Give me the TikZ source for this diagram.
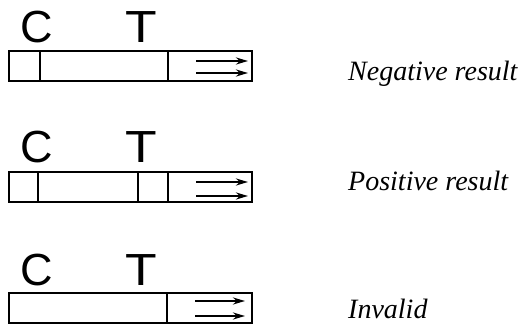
\documentclass[tikz,border=0pt]{standalone}
\usepackage{fontspec}
\setmainfont{Liberation Serif}
\newfontfamily\letterfont{Liberation Sans}
\usetikzlibrary{arrows.meta}
\begin{document}
\begin{tikzpicture}[x=1pt,y=-1pt,
  strip/.style={draw, line width=1.4pt, minimum width=243pt, minimum height=30pt, inner sep=0pt, outer sep=0pt},
  band/.style={line width=2pt},
  letter/.style={font=\letterfont\fontsize{45}{45}\selectfont, anchor=base, inner sep=0pt},
  wideletter/.style={letter, xscale=1.15, transform shape},
  result/.style={font=\itshape\fontsize{28}{28}\selectfont, anchor=base west, inner sep=0pt},
  flow/.style={line width=2pt, -{Stealth[length=12pt,width=7pt]}}]
\useasboundingbox (0,0) rectangle (531,329);
% strip 1 : negative
\node[strip] (s1) at (130.5,66) {};
\node[letter] (c1) at (37,43) {C};
\node[wideletter] (t1) at (141,43) {T};
\draw[band] (40,51) -- (40,81);
\draw[band] (168,51) -- (168,81);
\coordinate (a1s) at (196,61); \coordinate (a1e) at (248,61);
\coordinate (b1s) at (196,73); \coordinate (b1e) at (248,73);
\draw[flow] (a1s) -- (a1e);
\draw[flow] (b1s) -- (b1e);
\node[result] (r1) at (348,81) {Negative result};
% strip 2 : positive
\node[strip] (s2) at (130.5,187) {};
\node[letter] (c2) at (37,163) {C};
\node[wideletter] (t2) at (141,163) {T};
\draw[band] (38,172) -- (38,202);
\draw[band] (138,172) -- (138,202);
\draw[band] (168,172) -- (168,202);
\coordinate (a2s) at (196,182); \coordinate (a2e) at (248,182);
\coordinate (b2s) at (196,196); \coordinate (b2e) at (248,196);
\draw[flow] (a2s) -- (a2e);
\draw[flow] (b2s) -- (b2e);
\node[result] (r2) at (348,190) {Positive result};
% strip 3 : invalid
\node[strip] (s3) at (130.5,308) {};
\node[letter] (c3) at (37,285) {C};
\node[wideletter] (t3) at (141,285) {T};
\draw[band] (167,293) -- (167,323);
\coordinate (a3s) at (195,301); \coordinate (a3e) at (245,301);
\coordinate (b3s) at (195,316); \coordinate (b3e) at (245,316);
\draw[flow] (a3s) -- (a3e);
\draw[flow] (b3s) -- (b3e);
\node[result] (r3) at (348,318) {Invalid};
\end{tikzpicture}
\end{document}
